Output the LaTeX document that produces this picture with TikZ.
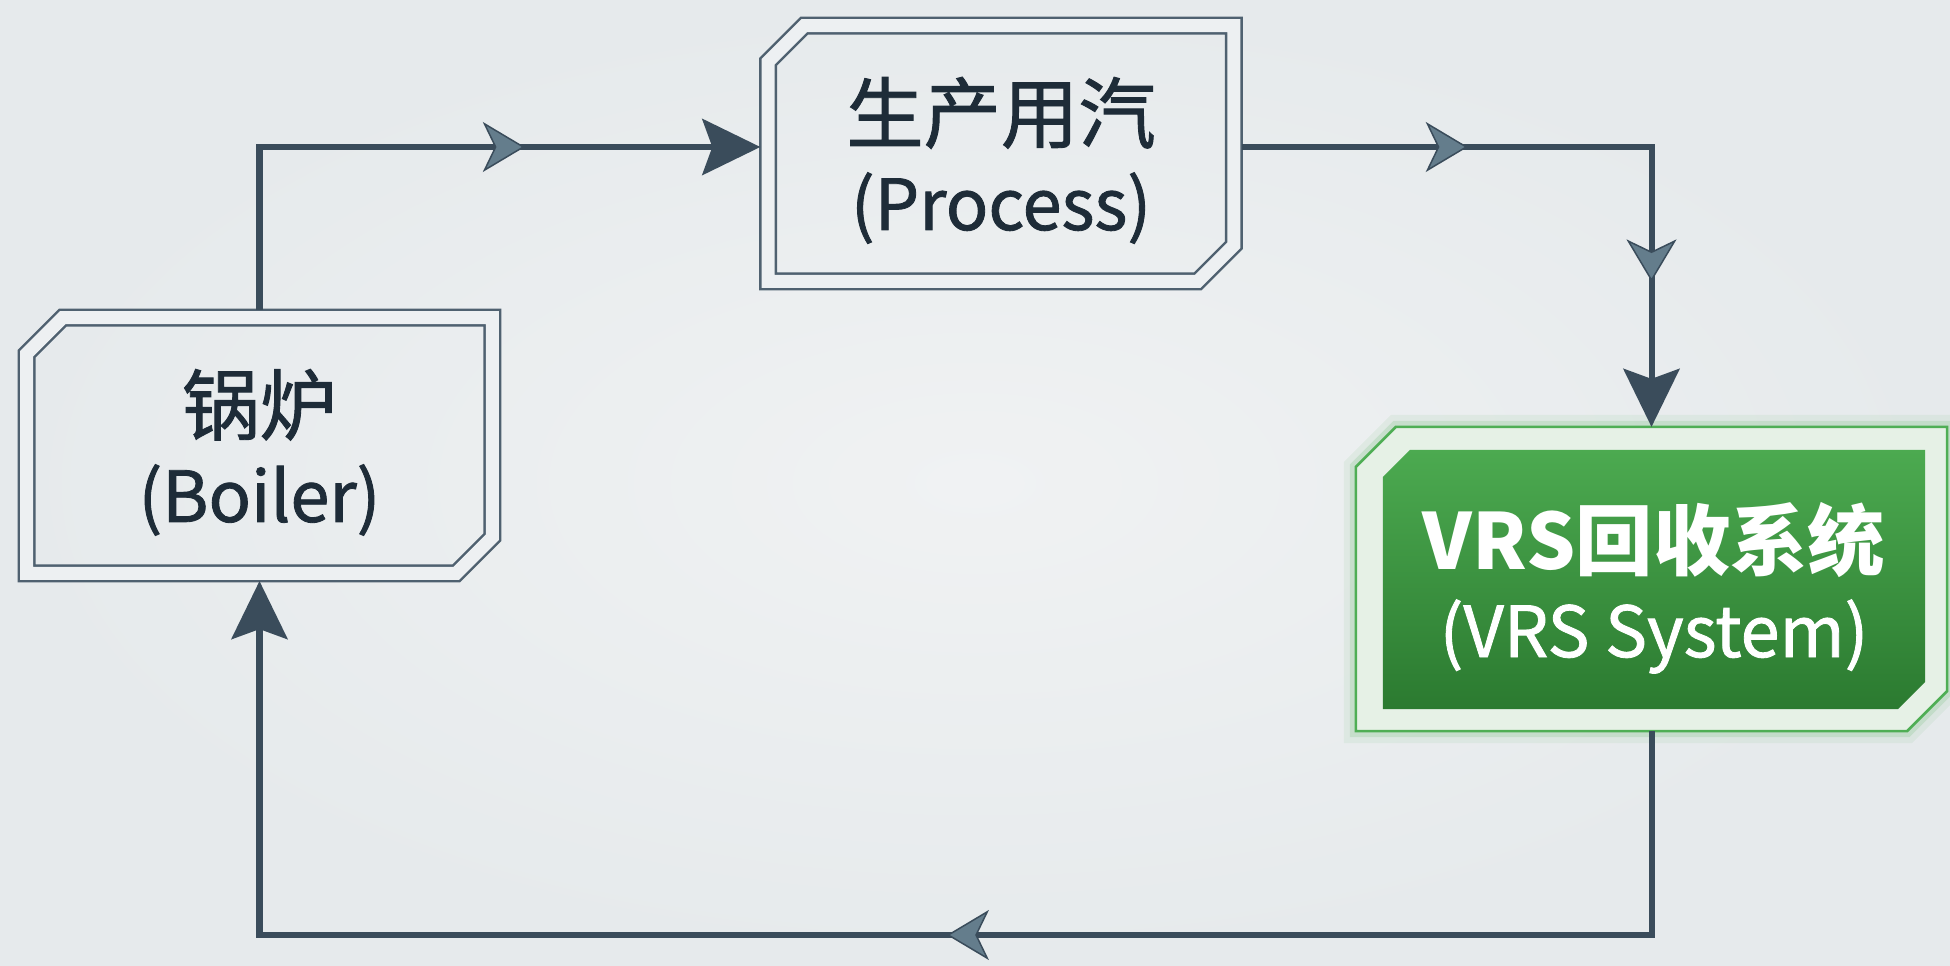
\documentclass[tikz,border=0pt]{standalone}
\usepackage{fontspec}
\setmainfont{Noto Sans CJK SC}[UprightFeatures={FakeBold=1.2}]
\usetikzlibrary{arrows.meta,decorations.markings,backgrounds}
\definecolor{bgin}{HTML}{F0F2F3}
\definecolor{bgout}{HTML}{E6EAEC}
\definecolor{bgcol}{HTML}{EDF0F2}
\definecolor{linecol}{HTML}{3A4C5B}
\definecolor{chevcol}{HTML}{647D8C}
\definecolor{framecol}{HTML}{4F6170}
\definecolor{txtcol}{HTML}{1E2C38}
\definecolor{gtop}{HTML}{4CAA50}
\definecolor{gbot}{HTML}{2B7A30}
\definecolor{gline}{HTML}{4FAE55}
\definecolor{gpale}{HTML}{E6F1E6}
\newcommand\eng[1]{{\fontsize{20}{25}\selectfont #1}}

\begin{document}
\begin{tikzpicture}
	[x=0.01cm, y=0.01cm, font=\fontsize{22}{25}\selectfont,
	bigtip/.tip={Stealth[length=0.58cm, width=0.56cm, inset=0.1cm]},
	chev/.tip={Stealth[length=0.42cm, width=0.5cm, inset=0.12cm, fill=chevcol, line width=0.015cm]},
	chamf/.style n args={3}{insert path={
		([xshift=#2, yshift=-#2-#3]#1.north west) -- ([xshift=#2+#3, yshift=-#2]#1.north west)
		-- ([xshift=-#2, yshift=-#2]#1.north east) -- ([xshift=-#2, yshift=#2+#3]#1.south east)
		-- ([xshift=-#2-#3, yshift=#2]#1.south east) -- ([xshift=#2, yshift=#2]#1.south west) -- cycle}},
	box/.style={minimum width=4.81cm, minimum height=2.71cm, inner sep=0pt, outer sep=0pt,
		text depth=0pt, align=center, text=txtcol},
	frame/.style={draw=framecol, line width=0.025cm, double=bgcol, double distance=0.13cm},
	vrsframe/.style={draw=gline, line width=0.025cm, fill=gpale,
		preaction={draw=gline, line width=0.24cm, opacity=0.08},
		preaction={draw=gline, line width=0.12cm, opacity=0.16}},
	flow/.style={draw=linecol, line width=0.06cm, postaction={decorate}}]
	\useasboundingbox (0,0) rectangle (1950,966);
	\node[box] (boiler) at (259.5,520.5) {锅炉\\\eng{(Boiler)}};
	\node[box] (process) at (1001,812.5) {生产用汽\\\eng{(Process)}};
	\node[box, minimum width=5.91cm, minimum height=3.04cm] (vrsout) at (1651.5,387) {};
	\node[box, minimum width=5.42cm, minimum height=2.59cm, text=white] (vrs) at (1654,386.5)
		{{\bfseries VRS回收系统}\\\eng{(VRS System)}};
	\draw[frame, chamf={boiler}{0.0775cm}{0.36cm}];
	\draw[frame, chamf={process}{0.0775cm}{0.36cm}];
	\begin{scope}[on background layer]
		\shade[inner color=bgin, outer color=bgout] (0,0) rectangle (1950,966);
		\path[vrsframe, chamf={vrsout}{0cm}{0.4cm}];
		\shade[top color=gtop, bottom color=gbot, chamf={vrs}{0cm}{0.27cm}];
	\end{scope}
	\coordinate (retn) at (259.5,31);
	\draw[flow, -bigtip, decoration={markings, mark=at position 4.28cm with {\arrow{chev}}}]
		(boiler.north) |- ([yshift=0.065cm]process.west);
	\draw[flow, -bigtip, decoration={markings, mark=at position 2.26cm with {\arrow{chev}},
		mark=at position 5.44cm with {\arrow{chev}}}]
		([yshift=0.065cm]process.east) -| (vrsout.north);
	\draw[flow, -bigtip, decoration={markings, mark=at position 9.08cm with {\arrow{chev}}}]
		(vrsout.south) |- (retn) -- (boiler.south);
\end{tikzpicture}
\end{document}
